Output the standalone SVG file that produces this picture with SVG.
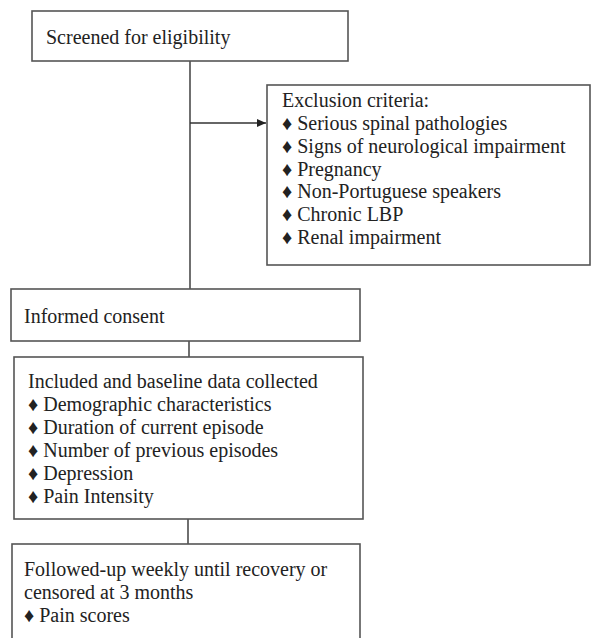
<svg xmlns="http://www.w3.org/2000/svg" width="592" height="638" viewBox="0 0 592 638">
<style>
.box{fill:#fff;stroke:#555;stroke-width:1.6}
.ln{fill:none;stroke:#333;stroke-width:1.4}
text{font-family:"Liberation Serif","Times New Roman",serif;font-size:20px;fill:#222}
</style>
<defs>
<marker id="ah" markerWidth="9" markerHeight="8" refX="9" refY="4" orient="auto" markerUnits="userSpaceOnUse">
<path d="M0,0 L9,4 L0,8 Z" fill="#222"/>
</marker>
</defs>
<rect width="592" height="638" fill="#fff"/>
<g id="connectors">
<line class="ln" x1="190" y1="61" x2="190" y2="289"/>
<line class="ln" x1="190" y1="123" x2="266" y2="123" marker-end="url(#ah)"/>
<line class="ln" x1="189" y1="341" x2="189" y2="357"/>
<line class="ln" x1="188" y1="519" x2="188" y2="544"/>
</g>
<g id="screened">
<rect class="box" x="32" y="11" width="316" height="50"/>
<text x="46" y="43.5">Screened for eligibility</text>
</g>
<g id="exclusion">
<rect class="box" x="267" y="85" width="323" height="180"/>
<text x="282" y="106.5">Exclusion criteria:</text>
<text x="282" y="129.5">♦ Serious spinal pathologies</text>
<text x="282" y="152.5">♦ Signs of neurological impairment</text>
<text x="282" y="175.5">♦ Pregnancy</text>
<text x="282" y="198">♦ Non-Portuguese speakers</text>
<text x="282" y="220.5">♦ Chronic LBP</text>
<text x="282" y="243.5">♦ Renal impairment</text>
</g>
<g id="consent">
<rect class="box" x="11" y="289" width="349" height="52"/>
<text x="24" y="322.5">Informed consent</text>
</g>
<g id="included">
<rect class="box" x="14" y="357" width="349" height="162"/>
<text x="28" y="387.5">Included and baseline data collected</text>
<text x="28" y="410.5">♦ Demographic characteristics</text>
<text x="28" y="433.5">♦ Duration of current episode</text>
<text x="28" y="456.5">♦ Number of previous episodes</text>
<text x="28" y="479.5">♦ Depression</text>
<text x="28" y="502.5">♦ Pain Intensity</text>
</g>
<g id="followup">
<rect class="box" x="12" y="544" width="348" height="100"/>
<text x="24" y="575.5">Followed-up weekly until recovery or</text>
<text x="24" y="598.5">censored at 3 months</text>
<text x="24" y="621.5">♦ Pain scores</text>
</g>
</svg>
